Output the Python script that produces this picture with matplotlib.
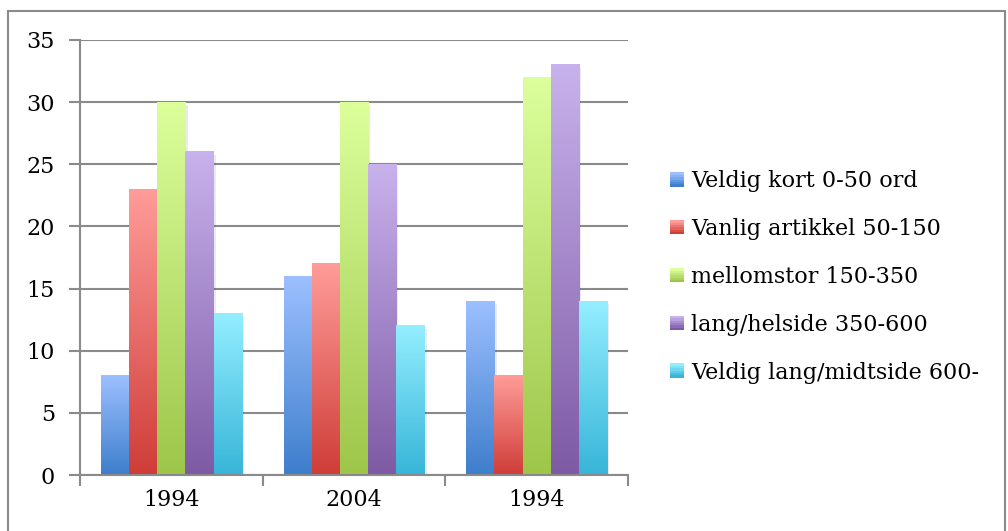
import numpy as np
import matplotlib
matplotlib.use("Agg")
import matplotlib.pyplot as plt
from matplotlib.colors import LinearSegmentedColormap
from matplotlib.patches import Rectangle, Patch
from matplotlib.legend_handler import HandlerBase

categories = ["1994", "2004", "1994"]
series_names = ["Veldig kort 0-50 ord", "Vanlig artikkel 50-150", "mellomstor 150-350",
                "lang/helside 350-600", "Veldig lang/midtside 600-"]
values = [
    [8, 16, 14],
    [23, 17, 8],
    [30, 30, 32],
    [26, 25, 33],
    [13, 12, 14],
]
top_colors = ["#9cc0ff", "#ff9c99", "#dcff9c", "#c8b2ec", "#94eeff"]
bottom_colors = ["#3e7ecc", "#cf3d38", "#9dc64a", "#7e5aa5", "#37b5d8"]

plt.rcParams['font.family'] = ['DejaVu Serif']

fig = plt.figure(figsize=(10.08, 5.31), dpi=100)
# outer frame
fig.patches.append(Rectangle((8/1008, -0.05), (1005-8)/1008, (531-11)/531 + 0.05,
                             transform=fig.transFigure, fill=False,
                             edgecolor="#8a8a8a", linewidth=1.5, zorder=0))

ax = fig.add_axes([80/1008, (531-475)/531, (628-80)/1008, (475-40)/531])
ax.set_xlim(0, 3)
ax.set_ylim(0, 35)

n = len(series_names)
bw = 141/183/n
x0 = np.arange(len(categories)) + 0.5
grad = np.linspace(0, 1, 256).reshape(-1, 1)
for i in range(n):
    xs = x0 - bw*n/2 + bw*(i+0.5)
    bars = ax.bar(xs, values[i], width=bw, color="none", edgecolor="none", zorder=3)
    cmap = LinearSegmentedColormap.from_list(f"g{i}", [bottom_colors[i], top_colors[i]])
    for b in bars:
        x, y = b.get_x(), b.get_y()
        w, h = b.get_width(), b.get_height()
        # soft shadow
        ax.add_patch(Rectangle((x + 0.012, y), w, h - 0.25, facecolor="#000000",
                               alpha=0.08, edgecolor="none", zorder=2.5))
        ax.imshow(grad, extent=(x, x + w, y, y + h), origin="lower", cmap=cmap,
                  aspect="auto", zorder=3, interpolation="bilinear")
ax.set_xlim(0, 3)
ax.set_ylim(0, 35)

ax.set_yticks(range(0, 36, 5))
ax.set_xticks([0, 1, 2, 3], minor=True)
ax.set_xticks(x0)
ax.set_xticklabels(categories)
ax.tick_params(axis="x", which="major", length=0, labelsize=16, pad=10)
ax.tick_params(axis="x", which="minor", length=8, width=1.5, color="#8a8a8a", direction="out")
ax.tick_params(axis="y", length=8, width=1.5, color="#8a8a8a", labelsize=16, pad=10)
ax.grid(axis="y", color="#8a8a8a", linewidth=1.5, zorder=1)
ax.set_axisbelow(True)
for s in ["top", "right"]:
    ax.spines[s].set_visible(False)
for s in ["left", "bottom"]:
    ax.spines[s].set_color("#8a8a8a")
    ax.spines[s].set_linewidth(1.5)
    ax.spines[s].set_zorder(4)


class GradHandler(HandlerBase):
    def __init__(self, top, bottom):
        super().__init__()
        self.top, self.bottom = top, bottom

    def create_artists(self, legend, orig_handle, xdescent, ydescent, width, height, fontsize, trans):
        arts = []
        sz = 10
        k = 6
        for j in range(k):
            t = j/(k-1)
            c = np.array(matplotlib.colors.to_rgb(self.bottom))*(1-t) + np.array(matplotlib.colors.to_rgb(self.top))*t
            r = Rectangle((width - sz - xdescent, -ydescent + (height - sz)/2 + sz*j/k), sz, sz/k + 0.3,
                          facecolor=c, edgecolor="none", transform=trans)
            arts.append(r)
        return arts


handles = [Patch(label=s) for s in series_names]
handler_map = {h: GradHandler(top_colors[i], bottom_colors[i]) for i, h in enumerate(handles)}
fig.legend(handles=handles, labels=series_names, handler_map=handler_map,
           loc="center left", bbox_to_anchor=(658/1008, (531-277)/531),
           frameon=False, fontsize=16, handlelength=0.75, handletextpad=0.35,
           labelspacing=1.16, borderaxespad=0)

fig.savefig("out.png", dpi=100)
